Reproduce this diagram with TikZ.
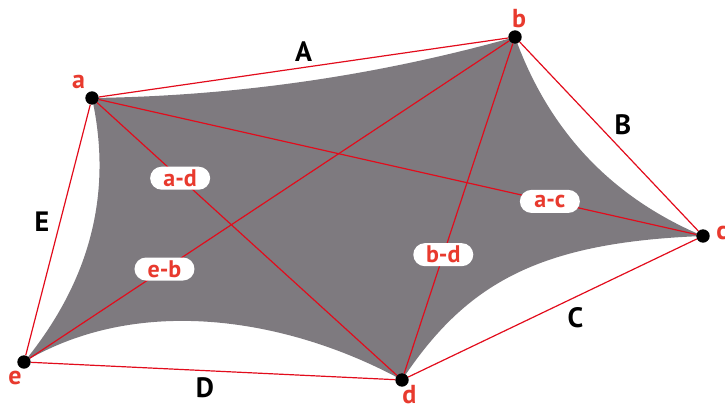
\documentclass[tikz,border=0pt]{standalone}
\usepackage{fontspec}
\setmainfont{PT Sans}
\usetikzlibrary{backgrounds}
\definecolor{linered}{RGB}{226,12,28}
\definecolor{txtred}{RGB}{232,58,46}
\definecolor{membranegray}{RGB}{126,122,127}
\begin{document}
\begin{tikzpicture}[x=1pt,y=-1pt,
  vtx/.style={circle,fill=black,inner sep=0pt,minimum size=13.4pt},
  conn/.style={draw=linered,line width=1.2pt},
  pill/.style={fill=white,rounded corners=11.5pt,minimum width=60pt,minimum height=23pt,inner sep=0pt,text=txtred,font=\fontsize{24}{24}\selectfont\bfseries},
  vlab/.style={text=txtred,font=\fontsize{26}{26}\selectfont\bfseries,inner sep=0pt},
  elab/.style={text=black,font=\fontsize{28}{28}\selectfont\bfseries,inner sep=0pt}]
\useasboundingbox (0,0) rectangle (725,406);
% vertices
\node[vtx] (a) at (92,98) {};
\node[vtx] (b) at (515,37) {};
\node[vtx] (c) at (703,236) {};
\node[vtx] (d) at (402,380) {};
\node[vtx] (e) at (24,362) {};
% membrane
\begin{pgfonlayer}{background}
\fill[membranegray] (a.center) .. controls (235.7,96.1) and (376.7,75.8) .. (b.center)
  .. controls (548.8,131) and (611.4,197.4) .. (c.center)
  .. controls (539.5,242.2) and (466.4,282.7) .. (d.center)
  .. controls (291.2,319.7) and (141,292.5) .. (e.center)
  .. controls (87.4,284.5) and (113.8,197.5) .. (a.center) -- cycle;
\end{pgfonlayer}
% edges
\draw[conn] (a) -- (b);
\draw[conn] (b) -- (c);
\draw[conn] (c) -- (d);
\draw[conn] (d) -- (e);
\draw[conn] (e) -- (a);
% diagonals
\draw[conn] (a) -- node[pill,pos=0.277] (lad) {a-d} (d);
\draw[conn] (e) -- node[pill,pos=0.281] (leb) {e-b} (b);
\draw[conn] (a) -- node[pill,pos=0.755] (lac) {a-c} (c);
\draw[conn] (b) -- node[pill,pos=0.64] (lbd) {b-d} (d);
% vertex labels
\node[vlab] (ta) at (78.5,82) {a};
\node[vlab] (tb) at (519,18.5) {b};
\node[vlab] (tc) at (722,232.5) {c};
\node[vlab] (td) at (409.5,395) {d};
\node[vlab] (te) at (15,377.5) {e};
% edge labels
\node[elab] (tA) at (303.5,52) {A};
\node[elab] (tB) at (623,124.5) {B};
\node[elab] (tC) at (575.5,317.5) {C};
\node[elab] (tD) at (205,387.5) {D};
\node[elab] (tE) at (42,221.5) {E};
\end{tikzpicture}
\end{document}
